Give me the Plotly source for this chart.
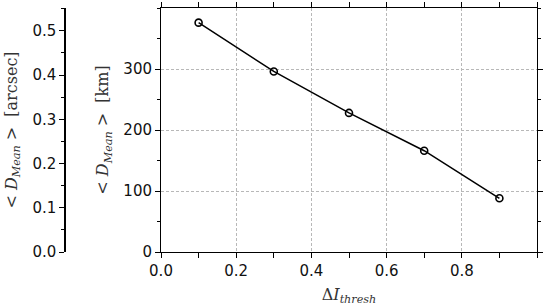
import plotly.graph_objects as go

# Data
thresholds = [0.1, 0.3, 0.5, 0.7, 0.9]
d_mean_km = [376, 296, 228, 166, 88]
KM_PER_ARCSEC = 725.0
y_range_km = [0, 400]
x_tick_vals = [0.0, 0.2, 0.4, 0.6, 0.8]
x_tick_text = ["0.0", "0.2", "0.4", "0.6", "0.8"]
y_tick_vals = [0, 100, 200, 300]
y2_tick_vals = [0.0, 0.1, 0.2, 0.3, 0.4, 0.5]
y2_tick_text = ["0.0", "0.1", "0.2", "0.3", "0.4", "0.5"]

W, H = 545, 308
ml, mr, mt, mb = 60, 8, 8, 56
plot_w = W - ml - mr
x_dom_left = (161 - ml) / plot_w
y2_pos = (65 - ml) / plot_w

tick_font = dict(family="DejaVu Sans", size=15, color="#111")
title_font = dict(family="DejaVu Serif", size=16, color="#333")
grid = dict(showgrid=True, gridcolor="#b8b8b8", gridwidth=1, griddash="3px,2px")

fig = go.Figure()
fig.add_trace(go.Scatter(
    x=thresholds, y=d_mean_km, mode="lines+markers",
    line=dict(color="black", width=1.5),
    marker=dict(symbol="circle-open", size=7, color="black", line=dict(width=1.6)),
    showlegend=False,
))
fig.add_trace(go.Scatter(x=[None], y=[None], yaxis="y2", showlegend=False))

fig.update_layout(
    width=W, height=H,
    margin=dict(l=ml, r=mr, t=mt, b=mb, autoexpand=False),
    paper_bgcolor="white", plot_bgcolor="white",
    xaxis=dict(
        domain=[x_dom_left, 1], range=[0, 1.0], automargin=False,
        tickvals=x_tick_vals, ticktext=x_tick_text,
        ticks="outside", ticklen=5, tickcolor="black", tickwidth=1,
        minor=dict(dtick=0.1, tick0=0, ticks="outside", ticklen=3, tickcolor="black", showgrid=False),
        showline=True, linecolor="black", linewidth=1, mirror="allticks",
        tickfont=tick_font, zeroline=False,
        title=dict(text="Δ<i>I</i><sub><i>thresh</i></sub>", font=title_font, standoff=9),
        **grid,
    ),
    yaxis=dict(
        range=y_range_km, tickvals=y_tick_vals, automargin=False,
        ticks="outside", ticklen=5, tickcolor="black", tickwidth=1,
        minor=dict(dtick=50, tick0=0, ticks="outside", ticklen=3, tickcolor="black", showgrid=False),
        showline=True, linecolor="black", linewidth=1, mirror="allticks",
        tickfont=tick_font, zeroline=False,
        title=dict(text="&lt; <i>D</i><sub><i>Mean</i></sub> &gt;  [km]", font=title_font, standoff=10),
        **grid,
    ),
    yaxis2=dict(
        overlaying="y", anchor="free", position=y2_pos, side="left", automargin=False,
        range=[y_range_km[0] / KM_PER_ARCSEC, y_range_km[1] / KM_PER_ARCSEC],
        tickvals=y2_tick_vals, ticktext=y2_tick_text,
        ticks="outside", ticklen=5, tickcolor="black", tickwidth=1,
        minor=dict(dtick=0.05, tick0=0, ticks="outside", ticklen=3, tickcolor="black", showgrid=False),
        showline=True, linecolor="black", linewidth=1.5,
        showgrid=False, zeroline=False, tickfont=tick_font,
        title=dict(text="&lt; <i>D</i><sub><i>Mean</i></sub> &gt;  [arcsec]", font=title_font, standoff=10),
    ),
)

fig.write_html(
    "out.html",
    config={"displayModeBar": False},
    post_script="document.body.style.margin='0';document.body.style.overflow='hidden';",
)
